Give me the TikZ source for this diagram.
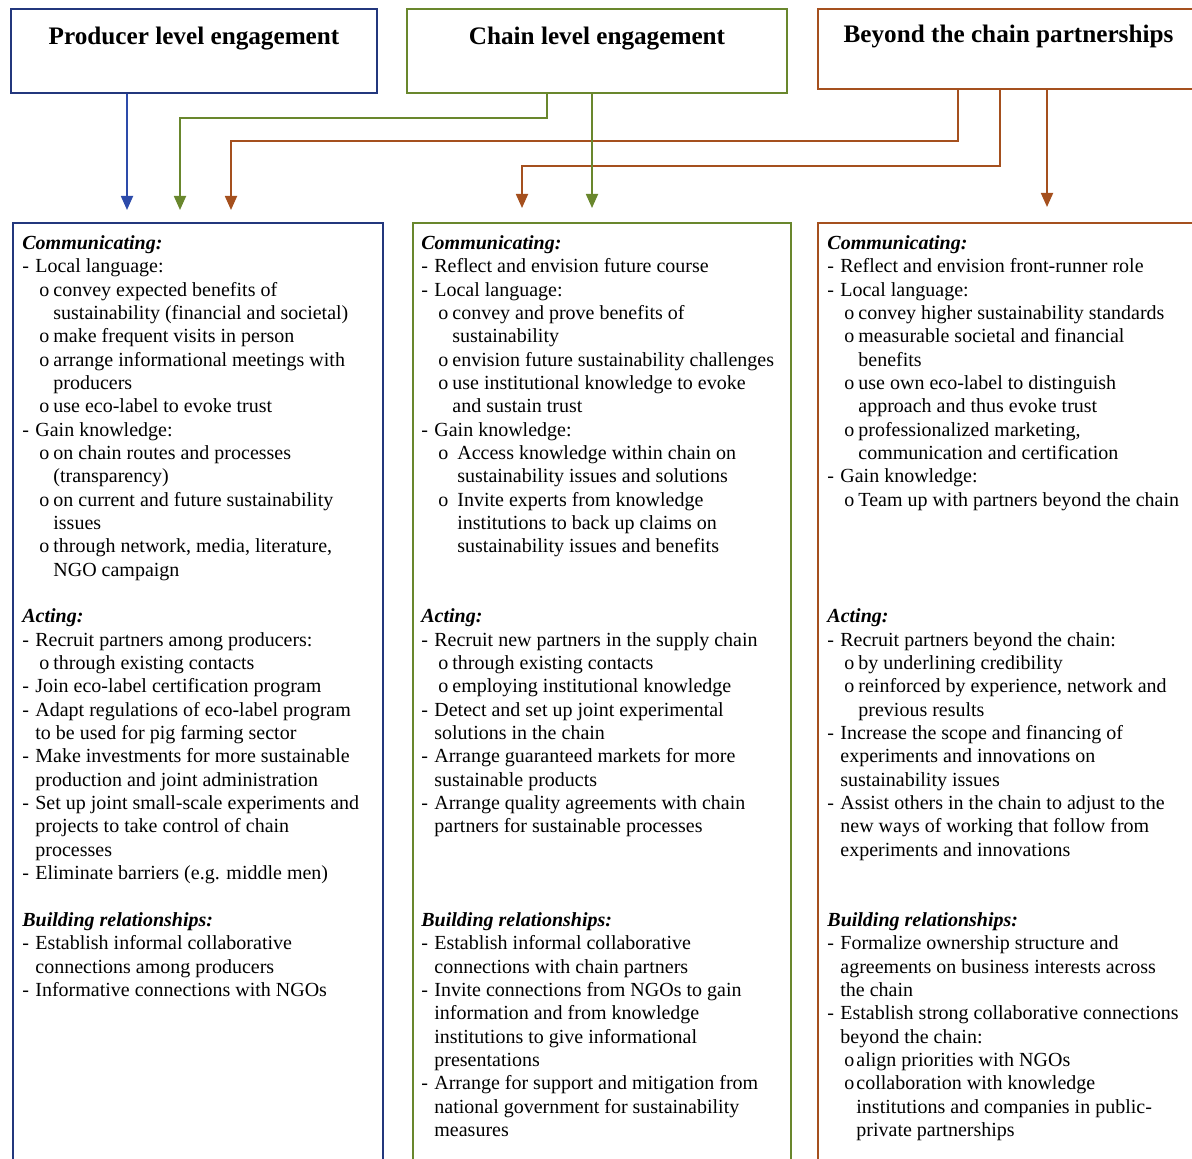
\documentclass[tikz,border=0pt]{standalone}
\usepackage{fontspec}
\setmainfont{Liberation Serif}
\usetikzlibrary{arrows.meta, positioning, calc}
\definecolor{prodblue}{RGB}{35,55,125}
\definecolor{arrblue}{RGB}{45,75,170}
\definecolor{chaingreen}{RGB}{105,135,45}
\definecolor{beyondbrown}{RGB}{165,80,30}

\newcommand{\ditem}[1]{\makebox[6.5pt][l]{-}#1}
\newcommand{\dcont}[1]{\hspace*{6.5pt}#1}
\newcommand{\oitem}[2][7pt]{\hspace*{8.5pt}\makebox[#1][l]{o}#2}
\newcommand{\ocont}[2][15.5pt]{\hspace*{#1}#2}
\newcommand{\sect}[1]{\strut\textbf{\textit{#1}}}

\begin{document}
\begin{tikzpicture}[x=0.5pt, y=-0.5pt,
  level/.style={rectangle, line width=1pt, align=center, inner sep=0pt,
                font=\fontsize{12.6}{15}\selectfont\bfseries},
  column/.style={rectangle, line width=1pt, inner sep=0pt, anchor=north west,
                 minimum height=476pt},
  items/.style={anchor=north west, align=left, inner sep=0pt,
                font=\fontsize{10}{11.67}\selectfont},
  flow/.style={-{Triangle[length=7pt, width=6pt]}, line width=0.9pt},
]
\useasboundingbox (0,0) rectangle (1192,1159);
\clip (0,0) rectangle (1192,1159);

% Levels
\node[level, draw=prodblue, minimum width=183pt, minimum height=42pt] (prod) at (194,51) {Producer level engagement\\\mbox{}};
\node[level, draw=chaingreen, minimum width=190pt, minimum height=42pt] (chain) at (597,51) {Chain level engagement\\\mbox{}};
\node[level, draw=beyondbrown, minimum width=191pt, minimum height=40pt] (beyond) at (1008.5,49) {Beyond the chain partnerships\\\mbox{}};

% Columns
\node[column, draw=prodblue, minimum width=185pt] (prodcol) at (12,222) {};
\node[column, draw=chaingreen, minimum width=189pt] (chaincol) at (412,222) {};
\node[column, draw=beyondbrown, minimum width=192pt] (beyondcol) at (817,222) {};

% Producer level
\node[items] (prodcomm) at (22,232.7) {\sect{Communicating:}\\
\ditem{Local language:}\\
\oitem{convey expected benefits of}\\
\ocont{sustainability (financial and societal)}\\
\oitem{make frequent visits in person}\\
\oitem{arrange informational meetings with}\\
\ocont{producers}\\
\oitem{use eco-label to evoke trust}\\
\ditem{Gain knowledge:}\\
\oitem{on chain routes and processes}\\
\ocont{(transparency)}\\
\oitem{on current and future sustainability}\\
\ocont{issues}\\
\oitem{through network, media, literature,}\\
\ocont{NGO campaign}};
\node[items] (prodact) at (22,606.1) {\sect{Acting:}\\
\ditem{Recruit partners among producers:}\\
\oitem{through existing contacts}\\
\ditem{Join eco-label certification program}\\
\ditem{Adapt regulations of eco-label program}\\
\dcont{to be used for pig farming sector}\\
\ditem{Make investments for more sustainable}\\
\dcont{production and joint administration}\\
\ditem{Set up joint small-scale experiments and}\\
\dcont{projects to take control of chain}\\
\dcont{processes}\\
\ditem{Eliminate barriers (e.g. middle men)}};
\node[items] (prodrel) at (22,909.6) {\sect{Building relationships:}\\
\ditem{Establish informal collaborative}\\
\dcont{connections among producers}\\
\ditem{Informative connections with NGOs}};

% Chain level
\node[items] (chaincomm) at (421,232.7) {\sect{Communicating:}\\
\ditem{Reflect and envision future course}\\
\ditem{Local language:}\\
\oitem{convey and prove benefits of}\\
\ocont{sustainability}\\
\oitem{envision future sustainability challenges}\\
\oitem{use institutional knowledge to evoke}\\
\ocont{and sustain trust}\\
\ditem{Gain knowledge:}\\
\oitem[9.5pt]{Access knowledge within chain on}\\
\ocont[18pt]{sustainability issues and solutions}\\
\oitem[9.5pt]{Invite experts from knowledge}\\
\ocont[18pt]{institutions to back up claims on}\\
\ocont[18pt]{sustainability issues and benefits}};
\node[items] (chainact) at (421,606.1) {\sect{Acting:}\\
\ditem{Recruit new partners in the supply chain}\\
\oitem{through existing contacts}\\
\oitem{employing institutional knowledge}\\
\ditem{Detect and set up joint experimental}\\
\dcont{solutions in the chain}\\
\ditem{Arrange guaranteed markets for more}\\
\dcont{sustainable products}\\
\ditem{Arrange quality agreements with chain}\\
\dcont{partners for sustainable processes}};
\node[items] (chainrel) at (421,909.6) {\sect{Building relationships:}\\
\ditem{Establish informal collaborative}\\
\dcont{connections with chain partners}\\
\ditem{Invite connections from NGOs to gain}\\
\dcont{information and from knowledge}\\
\dcont{institutions to give informational}\\
\dcont{presentations}\\
\ditem{Arrange for support and mitigation from}\\
\dcont{national government for sustainability}\\
\dcont{measures}};

% Beyond the chain
\node[items] (beyondcomm) at (827,232.7) {\sect{Communicating:}\\
\ditem{Reflect and envision front-runner role}\\
\ditem{Local language:}\\
\oitem{convey higher sustainability standards}\\
\oitem{measurable societal and financial}\\
\ocont{benefits}\\
\oitem{use own eco-label to distinguish}\\
\ocont{approach and thus evoke trust}\\
\oitem{professionalized marketing,}\\
\ocont{communication and certification}\\
\ditem{Gain knowledge:}\\
\oitem{Team up with partners beyond the chain}};
\node[items] (beyondact) at (827,606.1) {\sect{Acting:}\\
\ditem{Recruit partners beyond the chain:}\\
\oitem{by underlining credibility}\\
\oitem{reinforced by experience, network and}\\
\ocont{previous results}\\
\ditem{Increase the scope and financing of}\\
\dcont{experiments and innovations on}\\
\dcont{sustainability issues}\\
\ditem{Assist others in the chain to adjust to the}\\
\dcont{new ways of working that follow from}\\
\dcont{experiments and innovations}};
\node[items] (beyondrel) at (827,909.6) {\sect{Building relationships:}\\
\ditem{Formalize ownership structure and}\\
\dcont{agreements on business interests across}\\
\dcont{the chain}\\
\ditem{Establish strong collaborative connections}\\
\dcont{beyond the chain:}\\
\oitem[6pt]{align priorities with NGOs}\\
\oitem[6pt]{collaboration with knowledge}\\
\ocont[14.5pt]{institutions and companies in public-}\\
\ocont[14.5pt]{private partnerships}};

% Arrow ends
\coordinate (inP1) at (127,210);
\coordinate (inP2) at (180,210);
\coordinate (inP3) at (231,210);
\coordinate (inC1) at (522,208);
\coordinate (inC2) at (592,208);
\coordinate (inB1) at (1047,207);

% Flows
\draw[flow, arrblue] (prod.south -| inP1) -- (inP1);
\draw[flow, chaingreen] ([xshift=-25pt]chain.south) -- ++(0,24) -| (inP2);
\draw[flow, beyondbrown] ([xshift=-25.25pt]beyond.south) -- ++(0,51) -| (inP3);
\draw[flow, beyondbrown] ([xshift=-4.25pt]beyond.south) -- ++(0,76) -| (inC1);
\draw[flow, chaingreen] (chain.south -| inC2) -- (inC2);
\draw[flow, beyondbrown] (beyond.south -| inB1) -- (inB1);

\end{tikzpicture}
\end{document}
